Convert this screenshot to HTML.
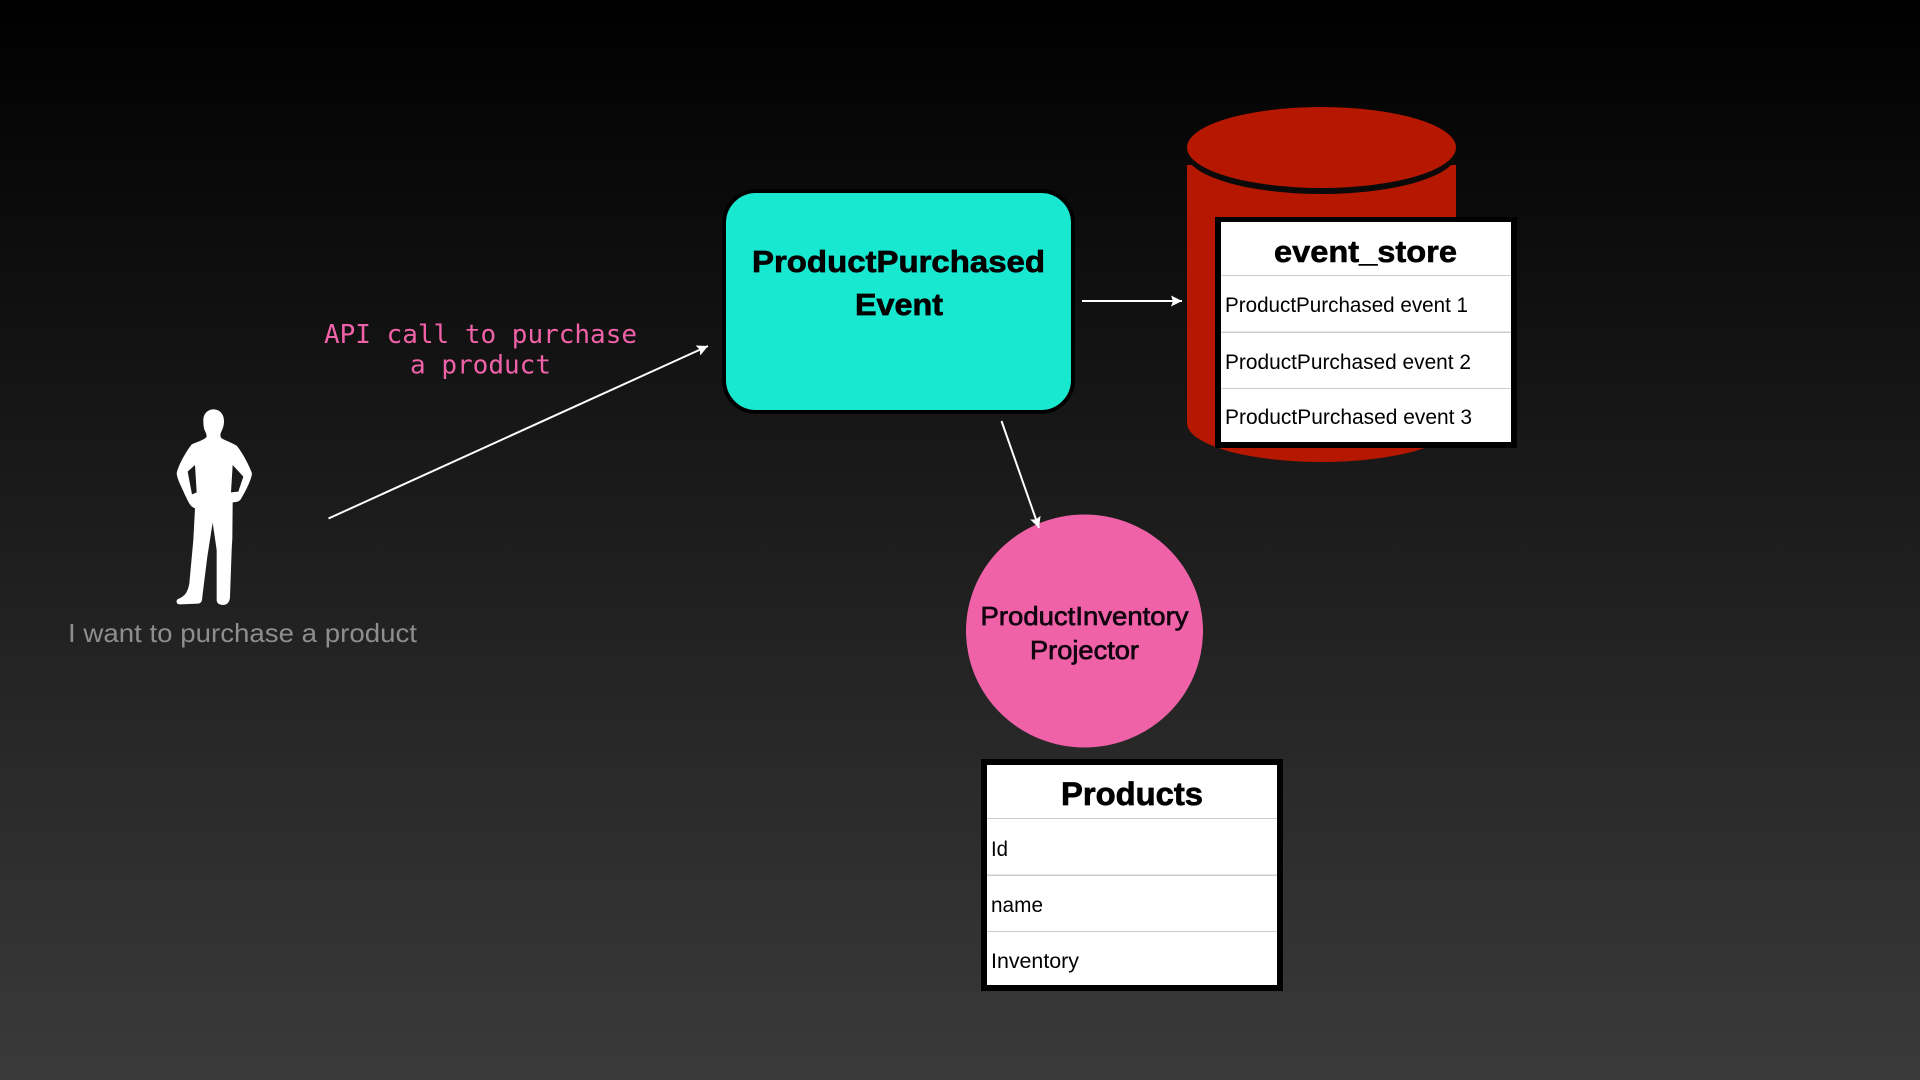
<!DOCTYPE html>
<html>
<head>
<meta charset="utf-8">
<style>
html,body{margin:0;padding:0;width:1920px;height:1080px;overflow:hidden;background:#000}
svg{display:block}
text{font-family:"Liberation Sans",sans-serif}
</style>
</head>
<body>
<svg width="1920" height="1080" viewBox="0 0 1920 1080" xmlns="http://www.w3.org/2000/svg">
<defs>
<linearGradient id="bg" x1="0" y1="0" x2="0" y2="1">
<stop offset="0" stop-color="#000"/>
<stop offset="1" stop-color="#3a3a3a"/>
</linearGradient>
<marker id="ah" markerUnits="userSpaceOnUse" markerWidth="12" markerHeight="12" refX="11" refY="5.5" orient="auto">
<path d="M0 0L11 5.5L0 11L2 5.5Z" fill="#fff"/>
</marker>
</defs>
<rect width="1920" height="1080" fill="url(#bg)"/>

<!-- person -->
<g transform="translate(170 405) scale(.33333)">
<path fill="#fff" fill-rule="evenodd" d="M130 13C150 13 162 28 162 48C162 62 158 72 154 80C150 88 150 95 155 100C170 108 190 115 200 122C215 140 235 175 246 205C244 225 225 262 215 278C210 290 200 292 188 292L187 400L185 435L180 575C180 590 172 600 160 600C148 600 140 595 140 585L140 435L128 353L112 455L97 575C97 590 92 595 85 596L30 598C20 598 17 590 22 583C40 575 52 568 58 535L70 405L75 310C60 305 55 290 45 270C35 245 22 225 20 205C25 180 48 140 65 118C80 112 100 105 108 98C112 92 108 85 105 78C101 70 100 60 100 45C100 28 112 13 130 13ZM75 180L53 200L66 268L80 262ZM188 180L183 262L205 260L220 215Z"/>
</g>
<text x="68" y="642" font-size="26" fill="#8e8e8e" textLength="349" lengthAdjust="spacingAndGlyphs">I want to purchase a product</text>

<!-- API label -->
<text x="324" y="343" font-size="26" fill="#f062a8" style="font-family:'DejaVu Sans Mono',monospace" textLength="313" lengthAdjust="spacingAndGlyphs">API call to purchase</text>
<text x="410" y="373.500" font-size="26" fill="#f062a8" style="font-family:'DejaVu Sans Mono',monospace" textLength="141" lengthAdjust="spacingAndGlyphs">a product</text>

<!-- connectors -->
<line x1="328.500" y1="518.500" x2="708" y2="346" stroke="#fff" stroke-width="2" marker-end="url(#ah)"/>
<line x1="1082" y1="301" x2="1182" y2="301" stroke="#fff" stroke-width="2" marker-end="url(#ah)"/>

<!-- event box -->
<rect x="724" y="191" width="349" height="221" rx="32" ry="32" fill="#19e8d0" stroke="#000" stroke-width="4"/>
<text x="752" y="272" font-size="31" font-weight="bold" fill="#000" stroke="#000" stroke-width=".7" textLength="293" lengthAdjust="spacingAndGlyphs">ProductPurchased</text>
<text x="855" y="315" font-size="31" font-weight="bold" fill="#000" stroke="#000" stroke-width=".7" textLength="88" lengthAdjust="spacingAndGlyphs">Event</text>

<!-- cylinder -->
<path d="M1187 165L1187 423A134.500 39 0 0 0 1456 423L1456 165Z" fill="#b51700"/>
<ellipse cx="1321.500" cy="153" rx="135.500" ry="41" fill="#0a0a0a"/>
<ellipse cx="1321.500" cy="147.500" rx="134.500" ry="40.500" fill="#b51700"/>

<!-- event_store table -->
<rect x="1215" y="217" width="302" height="231" fill="#000"/>
<rect x="1221" y="222" width="290" height="220" fill="#fff"/>
<rect x="1221" y="275" width="290" height="1" fill="#ccc"/>
<rect x="1221" y="331.500" width="290" height="1.500" fill="#ccc"/>
<rect x="1221" y="388" width="290" height="1" fill="#ccc"/>
<text x="1274" y="262" font-size="31" font-weight="bold" fill="#000" stroke="#000" stroke-width=".6" textLength="183" lengthAdjust="spacingAndGlyphs">event_store</text>
<text x="1225" y="312" font-size="21" fill="#000" textLength="243" lengthAdjust="spacingAndGlyphs">ProductPurchased event 1</text>
<text x="1225" y="369" font-size="21" fill="#000" textLength="246" lengthAdjust="spacingAndGlyphs">ProductPurchased event 2</text>
<text x="1225" y="424" font-size="21" fill="#000" textLength="247" lengthAdjust="spacingAndGlyphs">ProductPurchased event 3</text>

<!-- circle -->
<ellipse cx="1084.500" cy="631" rx="118.500" ry="116.500" fill="#f062a8"/>
<text x="980.500" y="625" font-size="26" fill="#120510" stroke="#120510" stroke-width=".7" textLength="208" lengthAdjust="spacingAndGlyphs">ProductInventory</text>
<text x="1030" y="659" font-size="26" fill="#120510" stroke="#120510" stroke-width=".7" textLength="109" lengthAdjust="spacingAndGlyphs">Projector</text>
<line x1="1001.500" y1="421" x2="1039" y2="528" stroke="#fff" stroke-width="2" marker-end="url(#ah)"/>

<!-- Products table -->
<rect x="981" y="759" width="302" height="232" fill="#000"/>
<rect x="987" y="765" width="290" height="220" fill="#fff"/>
<rect x="987" y="818" width="290" height="1" fill="#ccc"/>
<rect x="987" y="874.500" width="290" height="1.500" fill="#ccc"/>
<rect x="987" y="931" width="290" height="1" fill="#ccc"/>
<text x="1061" y="805" font-size="32" font-weight="bold" fill="#000" stroke="#000" stroke-width=".7" textLength="142" lengthAdjust="spacingAndGlyphs">Products</text>
<text x="991" y="856" font-size="21" fill="#000" textLength="17" lengthAdjust="spacingAndGlyphs">Id</text>
<text x="991" y="912" font-size="21" fill="#000" textLength="52" lengthAdjust="spacingAndGlyphs">name</text>
<text x="991" y="968" font-size="21" fill="#000" textLength="88" lengthAdjust="spacingAndGlyphs">Inventory</text>
</svg>
</body>
</html>
